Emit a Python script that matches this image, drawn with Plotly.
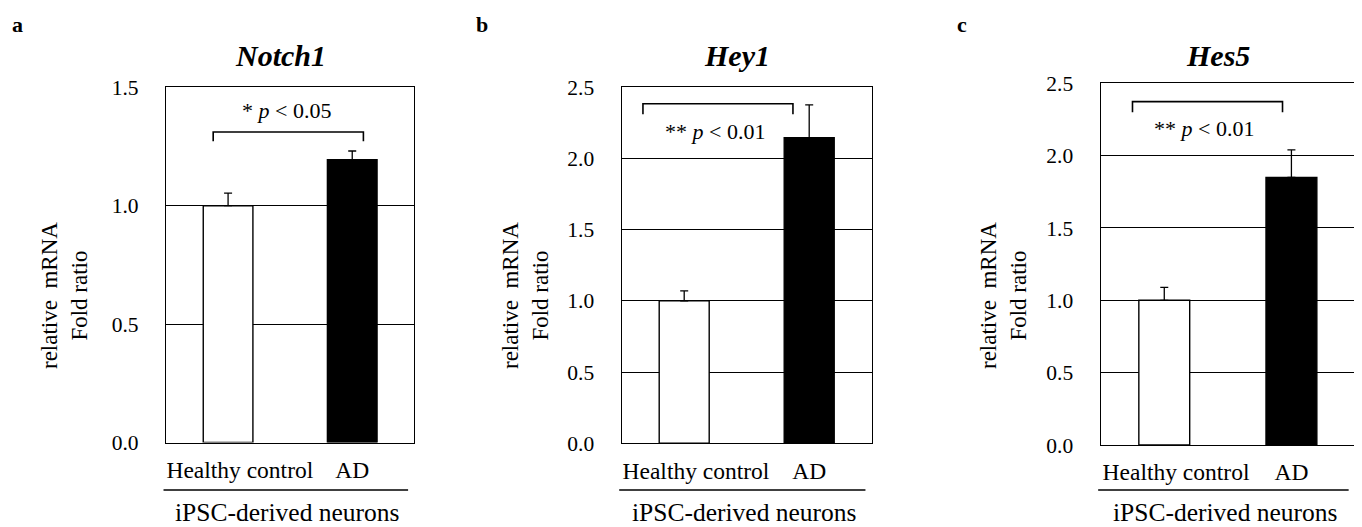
import plotly.graph_objects as go

# ---------------- data ----------------
genes = ["Notch1", "Hey1", "Hes5"]
panel_letters = ["a", "b", "c"]
categories = ["Healthy control", "AD"]
means_notch1 = [1.0, 1.194]
errs_notch1 = [0.053, 0.037]
means_hey1 = [1.0, 2.146]
errs_hey1 = [0.07, 0.23]
means_hes5 = [1.0, 1.85]
errs_hes5 = [0.09, 0.19]
y_max = [1.5, 2.5, 2.5]
sig_labels = ["* <i>p</i> < 0.05", "** <i>p</i> < 0.01", "** <i>p</i> < 0.01"]
# bracket: [x_left, x_right, y_top, y_ends]
bracket_notch1 = [-0.12, 1.09, 1.311, 1.272]
bracket_hey1 = [-0.33, 0.87, 2.385, 2.31]
bracket_hes5 = [-0.25, 0.93, 2.373, 2.30]
# significance text position [x, y]
sigpos_notch1 = [0.47, 1.404]
sigpos_hey1 = [0.25, 2.188]
sigpos_hes5 = [0.31, 2.189]
group_label = "iPSC-derived neurons"
y_title = "relative  mRNA<br>Fold ratio"

means = [means_notch1, means_hey1, means_hes5]
errs = [errs_notch1, errs_hey1, errs_hes5]
brackets = [bracket_notch1, bracket_hey1, bracket_hes5]
sigpos = [sigpos_notch1, sigpos_hey1, sigpos_hes5]

# ---------------- layout geometry (page pixels) ----------------
PAGE_W, PAGE_H = 1362, 527
OFF = 8  # default body margin of the html page
W, H = PAGE_W - OFF, PAGE_H - OFF
FONT = "Liberation Serif"
x_px = [(166, 414.3), (621.7, 871.7), (1100.7, 1355)]
y_px = [(87.3, 442.5), (87.3, 443.3), (83.3, 445)]
ytitle_x = [65, 526, 1004]
letter_x = [17, 482, 962]

def fx(p):
    return (p - OFF) / W

def fy(p):
    return 1 - (p - OFF) / H

fig = go.Figure()
layout = dict(
    width=W, height=H,
    margin=dict(l=0, r=0, t=0, b=0, autoexpand=False),
    paper_bgcolor="white", plot_bgcolor="white",
    showlegend=False,
    font=dict(family=FONT, color="black"),
)
annotations = []
shapes = []

tick_text = ["\u00a0\u00a0\u00a0\u00a0" + categories[0], categories[1]]

for i in range(3):
    xa = "x" if i == 0 else f"x{i+1}"
    ya = "y" if i == 0 else f"y{i+1}"
    xkey = "xaxis" if i == 0 else f"xaxis{i+1}"
    ykey = "yaxis" if i == 0 else f"yaxis{i+1}"

    fig.add_trace(go.Bar(
        x=[0, 1], y=means[i],
        width=0.4,
        marker=dict(color=["white", "black"], line=dict(color="black", width=1.4)),
        error_y=dict(type="data", symmetric=False, array=errs[i], arrayminus=[0, 0],
                     color="black", thickness=1.3, width=4),
        xaxis=xa, yaxis=ya,
    ))
    b = brackets[i]
    fig.add_trace(go.Scatter(
        x=[b[0], b[0], b[1], b[1]], y=[b[3], b[2], b[2], b[3]],
        mode="lines", line=dict(color="black", width=1.6),
        xaxis=xa, yaxis=ya, hoverinfo="skip",
    ))

    layout[xkey] = dict(
        domain=[fx(x_px[i][0]), fx(x_px[i][1])],
        anchor=ya, range=[-0.5, 1.5],
        tickvals=[0, 1], ticktext=tick_text,
        tickfont=dict(size=23.5, family=FONT, color="black"),
        showline=True, mirror=True, linecolor="black", linewidth=1.4,
        showgrid=False, zeroline=False, ticks="", ticklabelstandoff=6,
        automargin=False, fixedrange=True,
    )
    layout[ykey] = dict(
        domain=[fy(y_px[i][1]), fy(y_px[i][0])],
        anchor=xa, range=[0, y_max[i]],
        dtick=0.5, tick0=0, tickformat=".1f",
        tickfont=dict(size=21.5, family=FONT, color="black"),
        showline=True, mirror=True, linecolor="black", linewidth=1.4,
        showgrid=True, gridcolor="black", gridwidth=1.3,
        zeroline=False, ticks="", ticklabelstandoff=22,
        automargin=False, fixedrange=True,
    )

    # significance text
    annotations.append(dict(
        x=sigpos[i][0], y=sigpos[i][1], xref=xa, yref=ya,
        text=sig_labels[i], showarrow=False,
        font=dict(size=22, family=FONT, color="black"),
        xanchor="center", yanchor="middle",
    ))
    # gene title
    annotations.append(dict(
        x=fx((x_px[i][0] + x_px[i][1]) / 2 - 10), y=fy(55), xref="paper", yref="paper",
        text=f"<b><i>{genes[i]}</i></b>", showarrow=False,
        font=dict(size=30, family=FONT, color="black"),
        xanchor="center", yanchor="middle",
    ))
    # panel letter
    annotations.append(dict(
        x=fx(letter_x[i]), y=fy(25), xref="paper", yref="paper",
        text=f"<b>{panel_letters[i]}</b>", showarrow=False,
        font=dict(size=22, family=FONT, color="black"),
        xanchor="center", yanchor="middle",
    ))
    # y-axis title (two lines, rotated)
    annotations.append(dict(
        x=fx(ytitle_x[i]), y=fy(296), xref="paper", yref="paper",
        text=y_title, showarrow=False, textangle=-90,
        font=dict(size=23, family=FONT, color="black"),
        xanchor="center", yanchor="middle",
    ))
    # group label
    annotations.append(dict(
        x=0.49, y=fy(512), xref=f"{xa} domain", yref="paper",
        text=group_label, showarrow=False,
        font=dict(size=25.5, family=FONT, color="black"),
        xanchor="center", yanchor="middle",
    ))
    # separator line
    shapes.append(dict(
        type="line", xref=f"{xa} domain", yref="paper",
        x0=-0.01, x1=0.975, y0=fy(490), y1=fy(490),
        line=dict(color="black", width=1.4),
    ))

layout["annotations"] = annotations
layout["shapes"] = shapes
fig.update_layout(**layout)
fig.write_html("out.html")
